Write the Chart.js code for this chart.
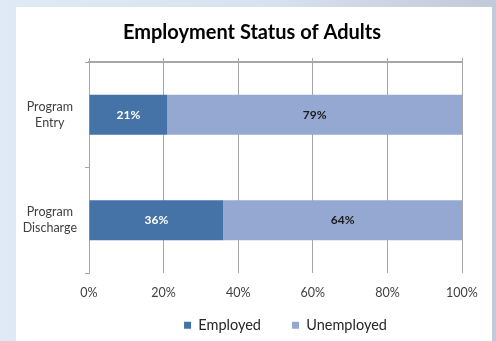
<!DOCTYPE html>
<html>
<head>
<meta charset="utf-8">
<script src="https://cdn.jsdelivr.net/npm/chart.js@4"></script>
<style>
  html, body { margin: 0; padding: 0; }
  body {
    width: 496px; height: 341px; overflow: hidden; position: relative;
    background: linear-gradient(to right, #e0eaf6 0%, #d8e1ef 55%, #c2c9da 100%);
  }
  #panel { position: absolute; left: 16px; top: 7px; width: 476px; height: 334px; background: #fff; }
  canvas { display: block; }
</style>
</head>
<body>
<div id="panel"><canvas id="chart" width="476" height="334"></canvas></div>
<script>
const CATEGORIES = [['Program', 'Entry'], ['Program', 'Discharge']];
const EMPLOYED = [21, 36];
const UNEMPLOYED = [79, 64];
const X_TICKS = [0, 20, 40, 60, 80, 100];

const FONT = 'Lato, "Open Sans", "Liberation Sans", sans-serif';
const GRID = '#a6a6a6';

// draws the % inside each bar segment
const barLabels = {
  id: 'barLabels',
  afterDatasetsDraw(chart) {
    const ctx = chart.ctx;
    ctx.save();
    ctx.font = 'bold 12px ' + FONT;
    ctx.textAlign = 'center';
    ctx.textBaseline = 'middle';
    chart.data.datasets.forEach((ds, i) => {
      chart.getDatasetMeta(i).data.forEach((bar, j) => {
        const p = bar.getCenterPoint();
        ctx.fillStyle = ds.labelColor;
        ctx.fillText(ds.data[j] + '%', p.x, p.y);
      });
    });
    ctx.restore();
  },
};

// excel centres title/legend a bit differently, shift the boxes after layout
const nudge = {
  id: 'nudge',
  afterLayout(chart) {
    const t = chart.titleBlock;
    t.left += 13; t.right += 13;
    const l = chart.legend;
    l.left += 10; l.right += 10;
    l.top -= 14; l.height += 14;
  },
};

new Chart(document.getElementById('chart'), {
  type: 'bar',
  data: {
    labels: CATEGORIES,
    datasets: [
      { label: 'Employed', data: EMPLOYED, backgroundColor: '#4572a7', labelColor: '#ffffff', barPercentage: 0.38, categoryPercentage: 1 },
      { label: 'Unemployed', data: UNEMPLOYED, backgroundColor: '#94a8d2', labelColor: '#1a1a1a', barPercentage: 0.38, categoryPercentage: 1 },
    ],
  },
  options: {
    indexAxis: 'y',
    responsive: false,
    animation: false,
    layout: { padding: { left: 0, right: 30, top: 0, bottom: 0 } },
    plugins: {
      title: {
        display: true,
        text: 'Employment Status of Adults',
        color: '#000',
        font: { family: FONT, size: 20, weight: 'bold', lineHeight: 1.2 },
        padding: { top: 14, bottom: 13 },
      },
      legend: {
        position: 'bottom',
        fullSize: false,
        maxHeight: 40,
        labels: {
          color: '#262626',
          font: { family: FONT, size: 14.5 },
          boxWidth: 7, boxHeight: 7,
          padding: 31,
        },
      },
      tooltip: { enabled: false },
    },
    scales: {
      x: {
        stacked: true,
        min: 0, max: 100,
        afterBuildTicks: (axis) => { axis.ticks = X_TICKS.map((v) => ({ value: v })); },
        ticks: { color: '#404040', font: { family: FONT, size: 12.5 }, padding: 12, callback: (v) => v + '%' },
        grid: { color: GRID, drawTicks: false },
        border: { display: false },
        afterFit: (axis) => { axis.height = 28; },
      },
      x2: {
        position: 'top',
        min: 0, max: 100,
        afterBuildTicks: (axis) => { axis.ticks = X_TICKS.map((v) => ({ value: v })); },
        ticks: { display: false },
        grid: { color: GRID, drawOnChartArea: false, tickLength: 4 },
        border: { color: GRID, width: 2 },
        afterFit: (axis) => { axis.height = 4; },
      },
      y: {
        stacked: true,
        ticks: { color: '#404040', font: { family: FONT, size: 12.5, lineHeight: 1.28 }, crossAlign: 'center', padding: 8 },
        grid: { offset: true, drawOnChartArea: false, color: GRID, tickLength: 4 },
        border: { color: GRID },
        afterFit: (axis) => { axis.width = 73; },
      },
    },
  },
  plugins: [barLabels, nudge],
});
</script>
</body>
</html>
